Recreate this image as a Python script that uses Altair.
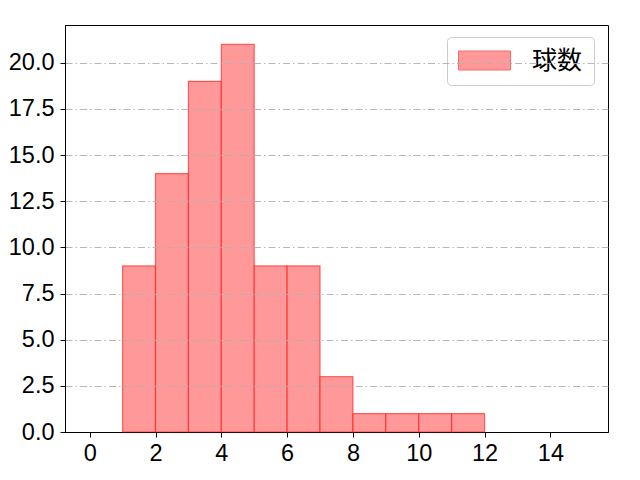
import altair as alt
import pandas as pd

bin_start = [1, 2, 3, 4, 5, 6, 7, 8, 9, 10, 11]
bin_end = [2, 3, 4, 5, 6, 7, 8, 9, 10, 11, 12]
counts = [9, 14, 19, 21, 9, 9, 3, 1, 1, 1, 1]
series_name = "球数"
x_ticks = [0, 2, 4, 6, 8, 10, 12, 14]
y_ticks = [0, 2.5, 5, 7.5, 10, 12.5, 15, 17.5, 20]

df = pd.DataFrame({
    "start": bin_start,
    "end": bin_end,
    "count": counts,
    "series": [series_name] * len(counts),
})

tick_font = "Liberation Sans"

chart = alt.Chart(df).mark_rect(
    stroke="#ff0000", strokeOpacity=0.55, strokeWidth=1.2
).encode(
    x=alt.X("start:Q",
            scale=alt.Scale(domain=[-0.75, 15.75], nice=False, zero=False),
            axis=alt.Axis(values=x_ticks, grid=False, title=None, format="d",
                          labelFont=tick_font, labelFontSize=23.5, labelColor="black",
                          tickColor="black", tickSize=5, domainColor="black",
                          labelPadding=4, labelFlush=False)),
    x2="end:Q",
    y=alt.Y("count:Q",
            scale=alt.Scale(domain=[0, 22.05], nice=False),
            axis=alt.Axis(values=y_ticks, format=".1f", title=None, grid=True,
                          gridDash=[7, 3, 1.5, 3], gridColor="#b0b0b0", gridWidth=0.9,
                          gridOpacity={"condition": {"test": "datum.value === 0", "value": 0}, "value": 1},
                          zindex=1,
                          labelFont=tick_font, labelFontSize=23.5, labelColor="black",
                          tickColor="black", tickSize=5, domainColor="black",
                          labelPadding=6, labelFlush=False)),
    y2=alt.datum(0),
    color=alt.Color("series:N", scale=alt.Scale(range=["#ff9999"]),
                    legend=alt.Legend(
                        title=None, orient="none", legendX=382, legendY=12,
                        strokeColor="#cccccc", fillColor="white", cornerRadius=4,
                        padding=11,
                        symbolType="M-2.6,-0.95L2.6,-0.95L2.6,0.95L-2.6,0.95Z",
                        symbolSize=400, symbolOpacity=1, symbolOffset=14,
                        symbolStrokeColor="#ff6666", symbolStrokeWidth=1,
                        labelFont="Noto Sans CJK JP", labelFontSize=25,
                        labelColor="black", labelOffset=35)),
).properties(
    width=543, height=407,
    autosize=alt.AutoSizeParams(type="none"),
    padding={"left": 57, "top": 17, "right": 10, "bottom": 40},
).configure_view(
    stroke="black", strokeWidth=1
).configure_axis(
    domainWidth=1, tickWidth=1
)

chart.save("out.html", embed_options={"renderer": "svg", "actions": False})
